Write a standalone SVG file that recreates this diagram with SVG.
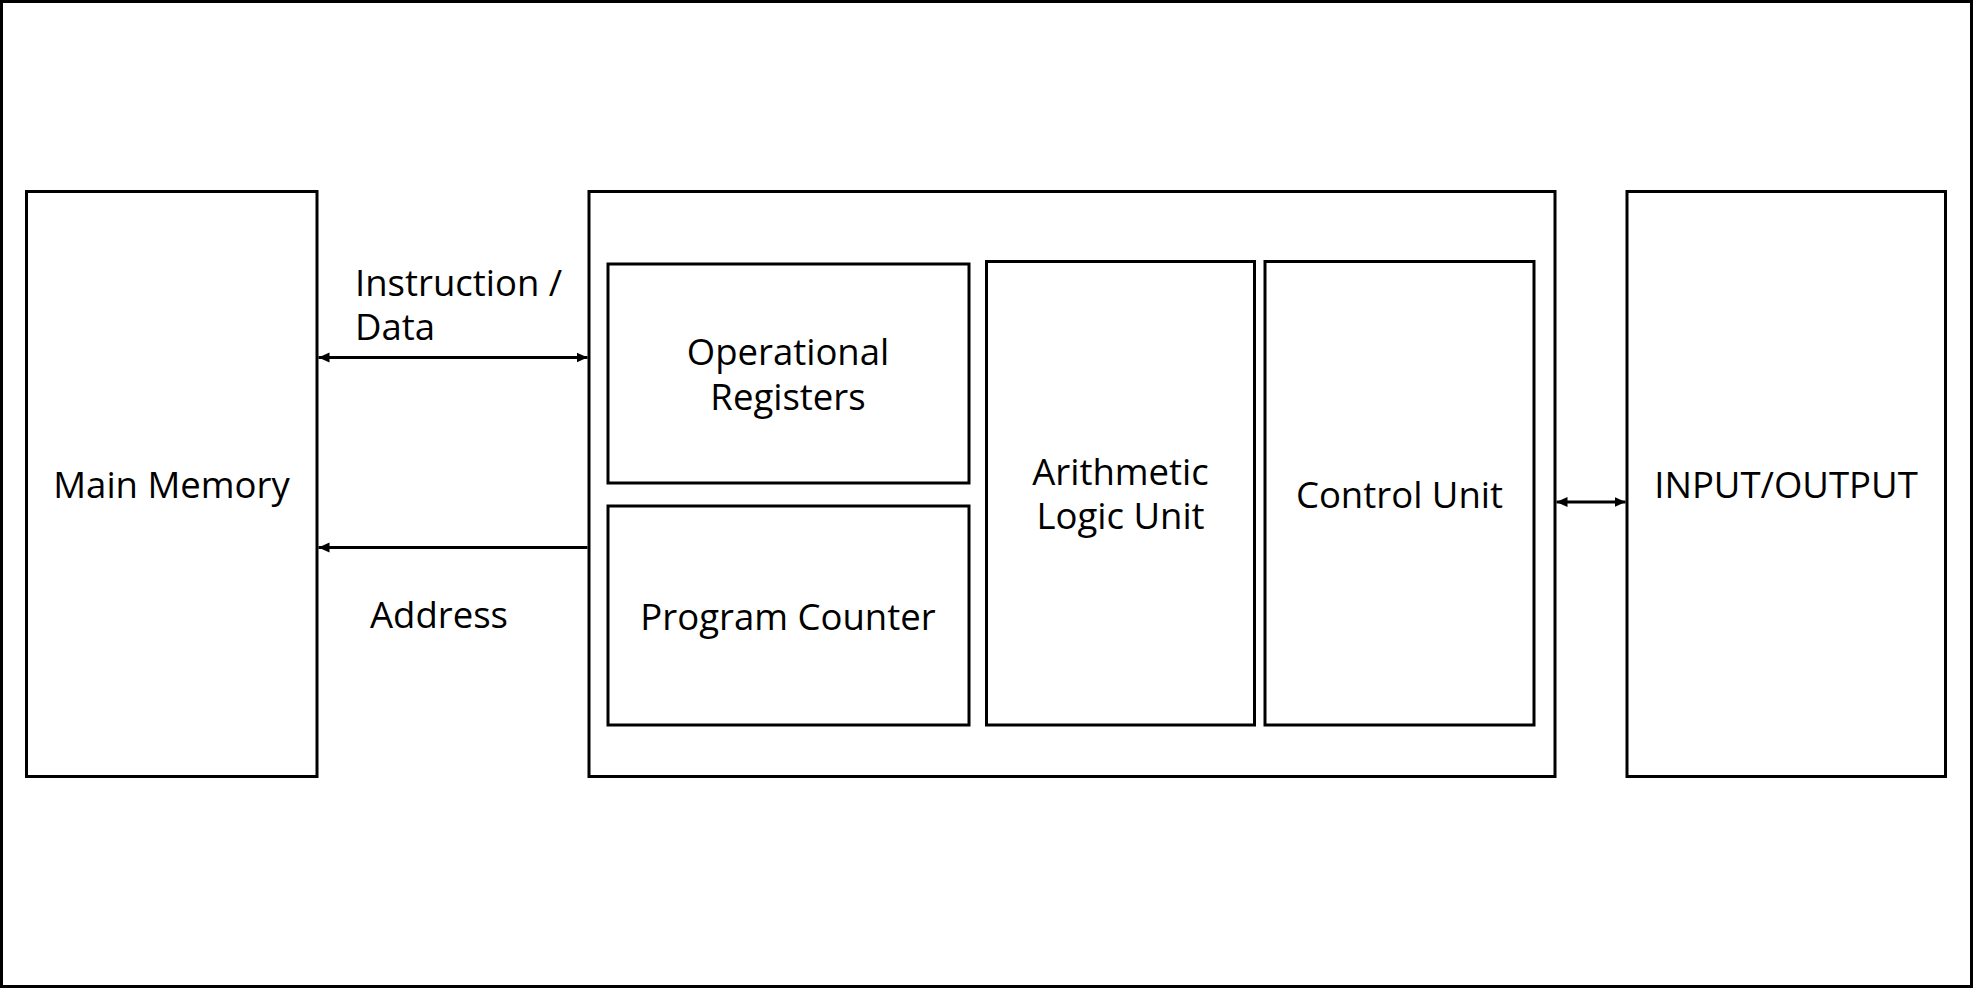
<svg xmlns="http://www.w3.org/2000/svg" width="1973" height="988" viewBox="0 0 1973 988">
<style>
.box{fill:#fff;stroke:#000;stroke-width:3}
.lbl{font-family:"Open Sans","Noto Sans","Liberation Sans",sans-serif;font-size:36.5px;fill:#000}
.c{text-anchor:middle}
.conn{stroke:#000;stroke-width:3;fill:none}
</style>
<defs>
<marker id="ah" viewBox="0 0 11 11" refX="11" refY="5.5" markerWidth="11" markerHeight="11" markerUnits="userSpaceOnUse" orient="auto-start-reverse">
<path d="M0,0.5 L11,5.5 L0,10.5 z" fill="#000"/>
</marker>
</defs>
<rect x="1.5" y="1.5" width="1970" height="985" fill="#fff" stroke="#000" stroke-width="3"/>
<g id="main-memory">
<rect class="box" x="26.5" y="191.5" width="290.5" height="585"/>
<text class="lbl c" x="171.5" y="497.5">Main Memory</text>
</g>
<g id="cpu">
<rect class="box" x="589" y="191.5" width="966" height="585"/>
</g>
<g id="operational-registers">
<rect class="box" x="608" y="264" width="361" height="219"/>
<text class="lbl c" x="788" y="365">Operational</text>
<text class="lbl c" x="788" y="409.5">Registers</text>
</g>
<g id="program-counter">
<rect class="box" x="608" y="506" width="361" height="219"/>
<text class="lbl c" x="788" y="629.5">Program Counter</text>
</g>
<g id="alu">
<rect class="box" x="986.5" y="261.5" width="268" height="463.5"/>
<text class="lbl c" x="1120.5" y="485">Arithmetic</text>
<text class="lbl c" x="1120.5" y="529">Logic Unit</text>
</g>
<g id="control-unit">
<rect class="box" x="1265" y="261.5" width="269" height="463.5"/>
<text class="lbl c" x="1399.5" y="507.5">Control Unit</text>
</g>
<g id="io">
<rect class="box" x="1627" y="191.5" width="318.5" height="585"/>
<text class="lbl c" x="1786" y="497.5">INPUT/OUTPUT</text>
</g>
<g id="connectors">
<line class="conn" x1="318.5" y1="357.5" x2="587.5" y2="357.5" marker-start="url(#ah)" marker-end="url(#ah)"/>
<line class="conn" x1="587.5" y1="547.5" x2="318.5" y2="547.5" marker-end="url(#ah)"/>
<line class="conn" x1="1556.5" y1="502" x2="1625.5" y2="502" marker-start="url(#ah)" marker-end="url(#ah)"/>
<text class="lbl" x="355" y="296">Instruction /</text>
<text class="lbl" x="355" y="340">Data</text>
<text class="lbl" x="370" y="628">Address</text>
</g>
</svg>
